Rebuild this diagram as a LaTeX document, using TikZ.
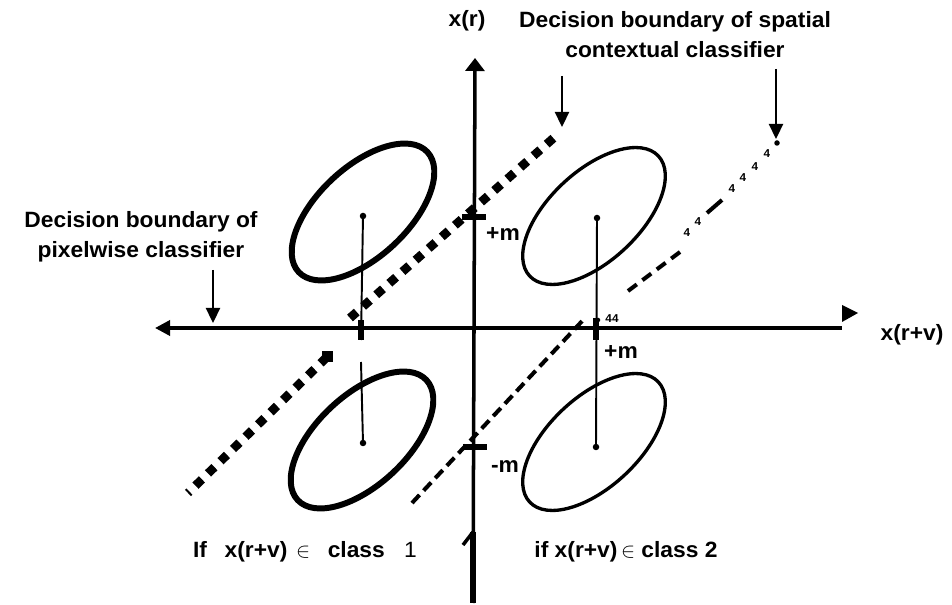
\documentclass[tikz,border=0pt]{standalone}
\usepackage{fontspec}
\setmainfont{Liberation Sans}[FakeStretch=1.03]
\usepackage{tikz}
\usetikzlibrary{arrows.meta}
\tikzset{
  axisline/.style={line width=2pt,black},
  lbl/.style={font=\fontsize{12.6}{17}\selectfont\bfseries,inner sep=0pt},
  tinylbl/.style={font=\fontsize{6.5}{7}\selectfont\bfseries,inner sep=0pt},
  heavyoval/.style={line width=3.4pt},
  lightoval/.style={line width=1.9pt},
  stemline/.style={line width=1.1pt},
  ctrdot/.style={circle,fill=black,inner sep=0pt,minimum size=1.3mm},
  tickmark/.style={line width=3pt},
  heavydots/.style={line width=5pt,dash pattern=on 0.18cm off 0.17cm},
  lightdash/.style={line width=2.3pt,dash pattern=on 0.22cm off 0.12cm},
  pointer/.style={-{Triangle[length=3mm,width=2.8mm]},line width=1.3pt},
}

\begin{document}
\begin{tikzpicture}
  \useasboundingbox (0,0) rectangle (19.04,-12.10);
  % axes
  \coordinate (hleft) at (3.10,-6.56);
  \coordinate (hright) at (16.84,-6.56);
  \coordinate (vtop) at (9.50,-1.16);
  \coordinate (vbot) at (9.46,-12.06);
  \coordinate (flagtop) at (9.46,-10.64);
  \coordinate (flagend) at (9.26,-10.90);
  \draw[axisline,{Triangle[length=3mm,width=3mm]}-] (hleft) -- (hright);
  \fill (16.84,-6.10) -- (17.16,-6.26) -- (16.84,-6.44) -- cycle;
  \draw[axisline,-{Triangle[length=2.6mm,width=3.8mm]}] (vbot) -- (vtop);
  \draw[line width=3.4pt] (flagtop) -- (vbot);
  \draw[line width=2pt] (flagtop) -- (flagend);
  \node[lbl] (nxr) at (9.34,-0.42) {x(r)};
  \node[lbl] (nxrv) at (18.24,-6.70) {x(r+v)};
  % ticks
  \coordinate (tpa) at (9.24,-4.34);
  \coordinate (tpb) at (9.72,-4.34);
  \coordinate (tma) at (9.26,-8.94);
  \coordinate (tmb) at (9.74,-8.94);
  \coordinate (tra) at (11.92,-6.36);
  \coordinate (trb) at (11.92,-6.80);
  \draw[tickmark] (tpa) -- (tpb);
  \draw[tickmark] (tma) -- (tmb);
  \draw[tickmark] (tra) -- (trb);
  \node[lbl] (npm) at (10.06,-4.68) {+m};
  \node[lbl] (nmm) at (10.10,-9.34) {-m};
  \node[lbl] (nhm) at (12.42,-7.04) {+m};
  % class ellipses
  \coordinate (e1) at (7.26,-4.24);
  \coordinate (e2) at (11.88,-4.32);
  \coordinate (e3) at (7.24,-8.80);
  \coordinate (e4) at (11.88,-8.84);
  \draw[heavyoval,rotate around={43:(e1)}] (e1) ellipse [x radius=1.76,y radius=0.9];
  \draw[lightoval,rotate around={43:(e2)}] (e2) ellipse [x radius=1.76,y radius=0.9];
  \draw[heavyoval,rotate around={43:(e3)}] (e3) ellipse [x radius=1.76,y radius=0.9];
  \draw[lightoval,rotate around={43:(e4)}] (e4) ellipse [x radius=1.76,y radius=0.9];
  \node[ctrdot] (d1) at (7.26,-4.32) {};
  \node[ctrdot] (d2) at (11.94,-4.36) {};
  \node[ctrdot] (d3) at (7.26,-8.86) {};
  \node[ctrdot] (d4) at (11.92,-8.94) {};
  \coordinate (s1) at (7.22,-6.80);
  \coordinate (s3) at (7.22,-7.24);
  \draw[stemline] (d1.center) -- (s1);
  \draw[stemline] (s3) -- (d3.center);
  \draw[stemline] (d2.center) -- (d4.center);
  \draw[tickmark] (7.22,-6.40) -- (s1);
  % spatial contextual boundaries
  \coordinate (ka) at (7.00,-6.36);
  \coordinate (kb) at (11.14,-2.70);
  \draw[heavydots] (ka) -- (kb);
  \node[fill,minimum size=2.2mm,inner sep=0pt] (nsq) at (6.54,-7.14) {};
  \coordinate (kc) at (3.76,-9.86);
  \draw[heavydots] (nsq.center) -- (kc);
  \coordinate (la) at (8.24,-10.06);
  \coordinate (lb) at (11.70,-6.36);
  \draw[lightdash] (la) -- (lb);
  \coordinate (lc) at (12.56,-5.82);
  \coordinate (ld) at (13.60,-5.04);
  \draw[lightdash,dash pattern=on 0.22cm off 0.14cm] (lc) -- (ld);
  \draw[line width=2.3pt] (14.14,-4.26) -- (14.44,-4.00);
  \node[ctrdot,minimum size=1.1mm] (lend) at (15.54,-2.86) {};
  \node[ctrdot,minimum size=0.9mm] (lmid) at (11.96,-6.40) {};
  \node[tinylbl] at (13.74,-4.66) {4};
  \node[tinylbl] at (13.96,-4.44) {4};
  \node[tinylbl] at (14.64,-3.78) {4};
  \node[tinylbl] at (14.86,-3.56) {4};
  \node[tinylbl] at (15.10,-3.34) {4};
  \node[tinylbl] at (15.34,-3.08) {4};
  \node[tinylbl] at (12.24,-6.38) {44};
  % labels and pointers
  \node[lbl,align=center] (nspat) at (13.50,-0.70) {Decision boundary of spatial\\contextual classifier};
  \node[lbl,align=center] (npix) at (2.82,-4.74) {Decision boundary of\\pixelwise classifier};
  \coordinate (p1a) at (4.26,-5.40);
  \coordinate (p1b) at (4.26,-6.46);
  \coordinate (p2a) at (11.24,-1.52);
  \coordinate (p2b) at (11.24,-2.54);
  \coordinate (p3a) at (15.52,-1.38);
  \coordinate (p3b) at (15.52,-2.78);
  \draw[pointer] (p1a) -- (p1b);
  \draw[pointer] (p2a) -- (p2b);
  \draw[pointer] (p3a) -- (p3b);
  \node[lbl] (ncl1) at (6.10,-11.04) {If\hspace{10pt}x(r+v)\hspace{5pt}\mdseries$\in$\hspace{10pt}\bfseries class\hspace{11pt}\mdseries1};
  \node[lbl] (ncl2) at (12.52,-11.04) {if x(r+v)\hspace{2pt}\mdseries$\in$\bfseries\ class 2};
\end{tikzpicture}
\end{document}
